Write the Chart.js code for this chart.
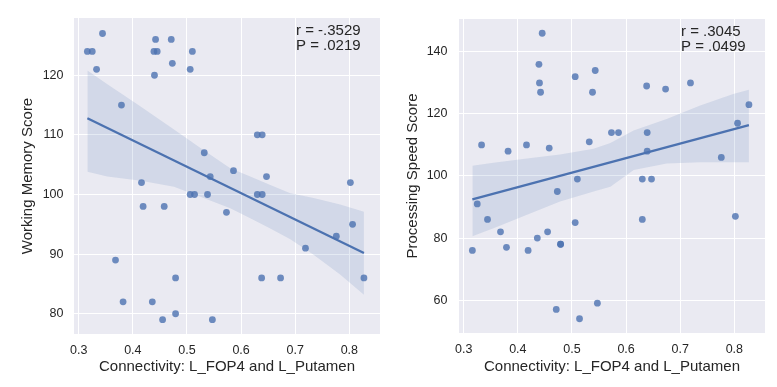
<!DOCTYPE html>
<html>
<head>
<meta charset="utf-8" />
<title>Connectivity vs scores</title>
<script src="https://cdn.jsdelivr.net/npm/chart.js@4.4.1/dist/chart.umd.min.js"></script>
<style>
  body { margin: 0; background: #fff; width: 777px; height: 387px; overflow: hidden; position: relative; }
  .panel { position: absolute; top: 0; height: 387px; }
</style>
</head>
<body>
<div class="panel" style="left:0; width:385px;"><canvas id="memChart"></canvas></div>
<div class="panel" style="left:385px; width:392px;"><canvas id="speedChart"></canvas></div>

<script>
// connectivity values (same subjects in both panels)
var connectivity = [0.316, 0.325, 0.333, 0.344, 0.368, 0.379, 0.382, 0.416, 0.419, 0.436,
                    0.439, 0.440, 0.442, 0.445, 0.455, 0.458, 0.471, 0.473, 0.479, 0.479,
                    0.506, 0.506, 0.510, 0.514, 0.532, 0.538, 0.543, 0.547, 0.573, 0.586,
                    0.630, 0.630, 0.638, 0.639, 0.639, 0.647, 0.673, 0.719, 0.776, 0.802,
                    0.806, 0.827];
var memoryScore = [124, 124, 121, 127, 89, 115, 82, 102, 98, 82,
                   124, 120, 126, 124, 79, 98, 126, 122, 86, 80,
                   121, 100, 124, 100, 107, 100, 103, 79, 97, 104,
                   110, 100, 86, 110, 100, 103, 86, 91, 93, 102,
                   95, 86];
var speedScore = [76, 91, 110, 86, 82, 77, 108, 110, 76, 80,
                  136, 130, 127, 146, 82, 109, 57, 95, 78, 78,
                  132, 85, 99, 54, 111, 127, 134, 59, 114, 114,
                  99, 86, 129, 114, 108, 99, 128, 130, 106, 87,
                  117, 123];

// fitted lines and confidence bands
var fitX = [0.316, 0.827];
var memFit = [112.8, 90.2];
var speedFit = [92.5, 116.4];

var memBandX = [0.316, 0.353, 0.415, 0.476, 0.525, 0.580, 0.617, 0.654, 0.691, 0.734, 0.783, 0.827];
var memUpper = [120.8, 118.5, 114.7, 110.9, 107.8, 104.4, 103.0, 101.6, 100.2, 99.4, 98.3, 97.1];
var memLower = [103.8, 103.0, 102.3, 101.3, 99.6, 97.7, 96.0, 94.3, 92.5, 89.9, 86.6, 83.2];

var speedBandX = [0.316, 0.355, 0.417, 0.478, 0.540, 0.571, 0.614, 0.675, 0.737, 0.798, 0.827];
var speedUpper = [103.3, 104.3, 105.6, 106.9, 108.8, 110.6, 114.7, 118.4, 122.7, 126.4, 127.8];
var speedLower = [80.6, 83.2, 87.5, 91.8, 95.0, 96.5, 101.9, 104.0, 104.4, 104.4, 104.4];

var xTicks = [0.3, 0.4, 0.5, 0.6, 0.7, 0.8];
var memTicks = [80, 90, 100, 110, 120];
var speedTicks = [60, 80, 100, 120, 140];

var xRange = [0.2913, 0.8567];
var memRange = [76.6, 129.6];
var speedRange = [49.4, 150.6];

var memStats = ['r = -.3529', 'P = .0219'];
var speedStats = ['r = .3045', 'P = .0499'];

var blue = '#4c72b0';
var textColor = '#262626';
var fontFamily = "'Liberation Sans', Arial, sans-serif";

function pairs(xs, ys) {
    return xs.map(function(x, i) { return {x: x, y: ys[i]}; });
}

// grey panel background + r / P text
var panelDecor = {
    id: 'panelDecor',
    beforeDraw: function(chart) {
        var a = chart.chartArea, ctx = chart.ctx;
        ctx.save();
        ctx.fillStyle = '#eaeaf2';
        ctx.fillRect(a.left, a.top, a.right - a.left, a.bottom - a.top);
        ctx.restore();
    },
    afterDraw: function(chart, args, opts) {
        var a = chart.chartArea, ctx = chart.ctx;
        ctx.save();
        ctx.fillStyle = textColor;
        ctx.font = '15px ' + fontFamily;
        ctx.textBaseline = 'alphabetic';
        opts.lines.forEach(function(t, i) {
            ctx.fillText(t, a.right - 84, a.top + 17 + i * 15);
        });
        ctx.restore();
    }
};

function makePanel(id, ys, fit, bandX, upper, lower, yTicks, yRange, yLabel, stats, lay) {
    return new Chart(id, {
        type: 'scatter',
        data: {
            datasets: [
                { data: pairs(bandX, upper), showLine: true, pointRadius: 0, borderWidth: 0,
                  fill: '+1', backgroundColor: 'rgba(76,114,176,0.15)', order: 2 },
                { data: pairs(bandX, lower), showLine: true, pointRadius: 0, borderWidth: 0,
                  fill: false, order: 2 },
                { data: pairs(connectivity, ys), pointRadius: 3.4, borderWidth: 0,
                  backgroundColor: 'rgba(76,114,176,0.8)', order: 3 },
                { data: pairs(fitX, fit), showLine: true, pointRadius: 0, borderColor: blue,
                  borderWidth: 2.3, order: 1 }
            ]
        },
        options: {
            responsive: true,
            maintainAspectRatio: false,
            animation: false,
            layout: { padding: { top: lay.top, right: lay.right, bottom: 0, left: 0 } },
            plugins: {
                legend: { display: false },
                tooltip: { enabled: false },
                panelDecor: { lines: stats }
            },
            scales: {
                x: {
                    type: 'linear', min: xRange[0], max: xRange[1],
                    afterBuildTicks: function(s) { s.ticks = xTicks.map(function(v) { return {value: v}; }); },
                    afterFit: function(s) { s.height = lay.xh; },
                    grid: { color: '#ffffff', lineWidth: 1, drawTicks: false },
                    border: { display: false },
                    ticks: { padding: 9, color: textColor, font: { size: 12.5, family: fontFamily },
                             callback: function(v) { return v.toFixed(1); } },
                    title: { display: true, text: 'Connectivity: L_FOP4 and L_Putamen', color: textColor,
                             font: { size: 15, family: fontFamily }, padding: { top: 0, bottom: 11.5 } }
                },
                y: {
                    type: 'linear', min: yRange[0], max: yRange[1],
                    afterBuildTicks: function(s) { s.ticks = yTicks.map(function(v) { return {value: v}; }); },
                    afterFit: function(s) { s.width = 74; },
                    grid: { color: '#ffffff', lineWidth: 1, drawTicks: false },
                    border: { display: false },
                    ticks: { padding: lay.tickPad, color: textColor, font: { size: 12.5, family: fontFamily } },
                    title: { display: true, text: yLabel, color: textColor,
                             font: { size: 15, family: fontFamily }, padding: { top: lay.titlePad, bottom: 0 } }
                }
            }
        },
        plugins: [panelDecor]
    });
}

makePanel('memChart', memoryScore, memFit, memBandX, memUpper, memLower,
          memTicks, memRange, 'Working Memory Score', memStats,
          { top: 17, right: 5, xh: 53, titlePad: 19, tickPad: 10.5 });
makePanel('speedChart', speedScore, speedFit, speedBandX, speedUpper, speedLower,
          speedTicks, speedRange, 'Processing Speed Score', speedStats,
          { top: 16, right: 12, xh: 54, titlePad: 18.8, tickPad: 11.5 });
</script>
</body>
</html>
